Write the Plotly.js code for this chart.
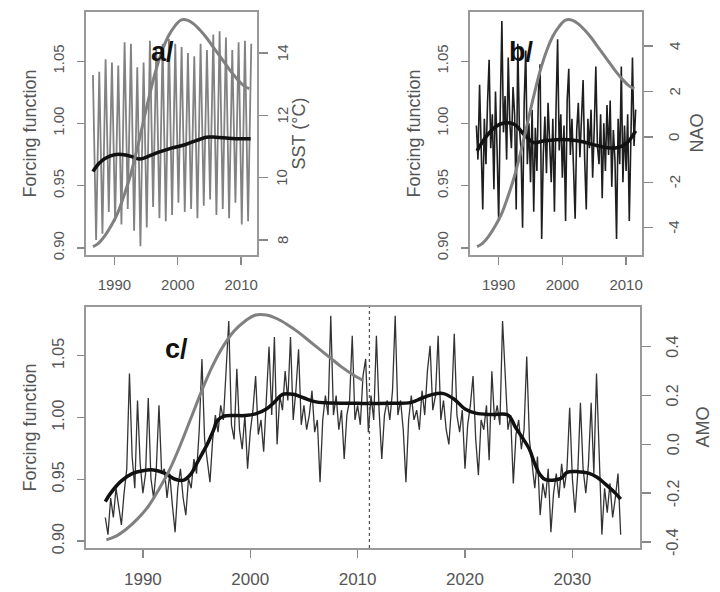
<!DOCTYPE html>
<html>
<head>
<meta charset="utf-8">
<script src="https://cdn.plot.ly/plotly-3.0.1.min.js"></script>
<style>html,body{margin:0;padding:0;background:#fff;}#chart{width:720px;height:592px;}</style>
</head>
<body>
<div id="chart"></div>
<script>
// ---------- DATA ----------
// Forcing function (shared by the three panels)
const ffYears  = [1986.6, 1987.5, 1988.5, 1989.5, 1990.5, 1991.5, 1992.5, 1993.5, 1994.5, 1995.5, 1996.5, 1997.5, 1998.5,
                  1999.5, 2000.5, 2001.5, 2002.5, 2003.5, 2004.5, 2005.5, 2006.5, 2007.5, 2008.5, 2009.5, 2010.5, 2011.3];
const ffValues = [0.901, 0.904, 0.910, 0.918, 0.928, 0.942, 0.958, 0.978, 1.000, 1.022, 1.042, 1.058, 1.070,
                  1.078, 1.083, 1.083, 1.080, 1.075, 1.069, 1.062, 1.055, 1.048, 1.041, 1.035, 1.030, 1.028];

// Panel a: SST, summer peaks (mid-year) and winter troughs (start of year)
const sstPeakYears = [1986, 1987, 1988, 1989, 1990, 1991, 1992, 1993, 1994, 1995, 1996, 1997, 1998,
                      1999, 2000, 2001, 2002, 2003, 2004, 2005, 2006, 2007, 2008, 2009, 2010, 2011];
const sstPeaks  = [13.3, 13.4, 13.8, 13.7, 13.6, 14.35, 14.3, 13.55, 13.7, 14.4, 14.1, 14.3, 14.45,
                   14.3, 14.2, 14.0, 13.9, 14.3, 14.1, 14.6, 14.7, 14.5, 14.1, 14.35, 14.4, 14.3];
const sstTroughs = [8.0, 8.2, 8.9, 8.6, 8.5, 9.0, 8.3, 7.8, 8.4, 9.06, 8.7, 8.6, 8.8,
                    9.2, 8.9, 9.0, 8.7, 9.1, 9.3, 8.8, 9.0, 8.7, 9.2, 8.5, 8.6];
const sstSmoothYears = [1986.6, 1987.5, 1988.5, 1990, 1991.5, 1993, 1994, 1995.5, 1997, 1999, 2001, 2003, 2004.5, 2006, 2008, 2010, 2011.5];
const sstSmooth      = [10.2, 10.45, 10.62, 10.74, 10.74, 10.66, 10.6, 10.7, 10.82, 10.95, 11.05, 11.2, 11.3, 11.3, 11.27, 11.25, 11.25];

// Panel b: NAO, quarterly from 1986.5
const naoStart = 1986.5, naoStep = 0.25;
const naoValues = [
  0.5, -1.0, 2.3, -0.8,   -3.2, 0.8, -1.2, 1.5,   3.4, -0.5, 1.0, -2.3,   2.0, -0.6, -3.7, 1.2,
  5.1, 0.2, 1.8, -1.0,    3.5, 0.6, -0.5, 2.2,    1.0, -3.2, 4.1, 0.4,    -0.5, -4.0, 1.5, 3.8,
  -1.2, 0.6, -2.0, 1.2,   -3.3, 0.4, -1.5, 2.0,   3.2, -4.5, -0.8, 0.9,   -1.6, 1.5, -0.4, -2.0,
  0.8, -3.3, 1.2, 4.3,    -0.6, 1.0, -1.8, 0.5,   -3.7, 1.6, 3.0, -0.8,   0.8, -1.4, -3.6, 0.3,
  1.5, -0.9, 0.6, 2.5,    -1.0, -3.2, 0.8, -0.5,  1.2, -1.8, 0.4, 3.1,    -0.4, -1.2, 1.0, -2.7,
  0.6, -1.5, 1.4, -0.8,   1.6, -2.2, 0.3, -1.0,   -4.5, 0.8, -1.2, 3.1,   -2.0, 0.5, -1.5, 1.0,
  -3.7, 0.6, 3.5, -0.4,   1.2];
const naoSmoothYears = [1986.6, 1988, 1989.5, 1991, 1992.5, 1994, 1995.5, 1997, 1999, 2001, 2003, 2005, 2007, 2008.5, 2010, 2011.5];
const naoSmooth      = [-0.62, 0.0, 0.45, 0.62, 0.55, 0.1, -0.25, -0.18, -0.12, -0.13, -0.2, -0.35, -0.47, -0.48, -0.3, 0.27];

// Panel c: AMO, quarterly from 1986.5 (observed then projected)
const amoStart = 1986.5, amoStep = 0.25;
const amoValues = [
  -0.30, -0.37, -0.22, -0.30,  -0.18, -0.26, -0.33, -0.20,  -0.10, 0.29, -0.05, -0.18,  0.18, -0.08, -0.20, -0.12,
  0.19, -0.14, -0.22, -0.10,   0.16, -0.12, -0.10, -0.22,   -0.12, -0.25, -0.36, -0.18,  -0.10, -0.22, -0.29, -0.14,
  -0.18, -0.06, -0.12, 0.06,   0.35, 0.02, -0.08, -0.155,   0.02, 0.12, 0.05, 0.16,      0.10, 0.30, 0.506, 0.08,
  0.02, 0.31, 0.06, -0.02,     0.12, -0.10, 0.05, 0.14,     0.28, 0.04, 0.10, -0.03,     0.18, 0.40, 0.12, 0.44,
  0.00, 0.20, 0.14, 0.30,      0.18, 0.44, 0.10, 0.22,      0.39, 0.08, 0.16, 0.06,      0.12, 0.22, 0.05, 0.10,
  -0.155, 0.10, 0.20, 0.12,    0.527, 0.12, 0.20, 0.06,     0.14, -0.06, 0.12, 0.18,     0.445, 0.10, 0.16, 0.08,
  0.28, 0.35, 0.05, 0.20,      0.10, 0.445, 0.14, -0.06,    0.12, 0.18, 0.10, 0.22,      0.527, 0.12, 0.18, 0.06,
  -0.155, 0.10, 0.20, 0.10,    0.14, 0.06, 0.22, 0.12,      0.30, 0.404, 0.14, 0.20,     0.445, 0.10, 0.18, 0.06,
  0.00, 0.16, 0.453, 0.12,     0.05, 0.14, -0.10, 0.08,     0.16, 0.28, 0.02, -0.126,    0.10, 0.06, 0.16, -0.065,
  0.30, 0.10, 0.16, 0.08,      0.506, 0.26, 0.06, 0.12,     -0.16, 0.04, 0.10, -0.02,    0.06, 0.36, 0.02, -0.08,
  -0.18, -0.05, -0.29, -0.16,  -0.22, -0.10, -0.36, -0.20,  -0.12, -0.22, -0.08, -0.18,  -0.10, 0.15, -0.14, -0.28,
  -0.12, 0.17, -0.10, -0.20,   -0.08, 0.17, -0.12, 0.29,    -0.06, -0.37, -0.18, -0.28,  -0.16, -0.30, -0.22, -0.12,
  -0.37];
const amoSmoothYears = [1986.5, 1987, 1988, 1989, 1990, 1991, 1992, 1993, 1993.8, 1994.5, 1995, 1995.5, 1996, 1996.5, 1997, 1997.5,
  1998.5, 1999.5, 2000.5, 2001.5, 2002.3, 2003, 2004, 2005, 2006, 2007, 2010, 2013, 2015, 2016, 2017, 2018, 2019, 2020, 2021,
  2022.5, 2024, 2024.7, 2025.3, 2026, 2026.5, 2027, 2027.5, 2028.5, 2029, 2029.5, 2030.5, 2031.5, 2032.3, 2033, 2034, 2034.5];
const amoSmooth = [-0.235, -0.2, -0.15, -0.12, -0.108, -0.105, -0.118, -0.143, -0.147, -0.12, -0.08, -0.04, 0.0, 0.05, 0.1, 0.115,
  0.118, 0.118, 0.125, 0.145, 0.175, 0.205, 0.205, 0.19, 0.175, 0.17, 0.168, 0.168, 0.172, 0.19, 0.205, 0.208, 0.185, 0.145, 0.128,
  0.122, 0.12, 0.07, 0.03, -0.02, -0.08, -0.125, -0.145, -0.145, -0.138, -0.115, -0.112, -0.118, -0.135, -0.16, -0.2, -0.225];
const splitYear = 2011.1;

const xTicksTop = [1990, 2000, 2010];
const xTicksBottom = [1990, 2000, 2010, 2020, 2030];
const ffTicks = [0.90, 0.95, 1.00, 1.05];
const ffTickText = ['0.90', '0.95', '1.00', '1.05'];
const sstTicks = [8, 10, 12, 14];
const sstTickText = ['8', '10', '12', '14'];
const naoTicks = [-4, -2, 0, 2, 4];
const naoTickText = ['-4', '-2', '0', '2', '4'];
const amoTicks = [-0.4, -0.2, 0.0, 0.2, 0.4];
const amoTickText = ['-0.4', '-0.2', '0.0', '0.2', '0.4'];

// ---------- BUILD SERIES ----------
const sstX = [], sstY = [];
for (let i = 0; i < sstPeakYears.length; i++) {
  sstX.push(sstPeakYears[i] + 0.6); sstY.push(sstPeaks[i]);
  if (i < sstTroughs.length) { sstX.push(sstPeakYears[i] + 1.1); sstY.push(sstTroughs[i]); }
}
const naoX = naoValues.map((v, i) => naoStart + i * naoStep);
const amoX = amoValues.map((v, i) => amoStart + i * amoStep);
const ffXc = [], ffYc = [];
ffYears.forEach((y, i) => { if (y <= splitYear + 0.05) { ffXc.push(y); ffYc.push(ffValues[i]); } });

const GRAY = '#808080', THIN = '#828282', BLACK = '#111';
const font = 'Liberation Sans, Arial, Helvetica, sans-serif';
const TXT = '#555';

const traces = [
  // panel a
  {x: sstX, y: sstY, xaxis: 'x', yaxis: 'y', type: 'scatter', mode: 'lines', line: {color: THIN, width: 1.8}},
  {x: sstSmoothYears, y: sstSmooth, xaxis: 'x', yaxis: 'y', type: 'scatter', mode: 'lines', line: {color: BLACK, width: 3.5, shape: 'spline'}},
  {x: ffYears, y: ffValues, xaxis: 'x', yaxis: 'y2', type: 'scatter', mode: 'lines', line: {color: GRAY, width: 3, shape: 'spline'}},
  // panel b
  {x: naoX, y: naoValues, xaxis: 'x2', yaxis: 'y3', type: 'scatter', mode: 'lines', line: {color: '#1e1e1e', width: 1.6}},
  {x: naoSmoothYears, y: naoSmooth, xaxis: 'x2', yaxis: 'y3', type: 'scatter', mode: 'lines', line: {color: BLACK, width: 3.5, shape: 'spline'}},
  {x: ffYears, y: ffValues, xaxis: 'x2', yaxis: 'y4', type: 'scatter', mode: 'lines', line: {color: GRAY, width: 3, shape: 'spline'}},
  // panel c
  {x: amoX, y: amoValues, xaxis: 'x3', yaxis: 'y5', type: 'scatter', mode: 'lines', line: {color: '#333', width: 1.3}},
  {x: amoSmoothYears, y: amoSmooth, xaxis: 'x3', yaxis: 'y5', type: 'scatter', mode: 'lines', line: {color: BLACK, width: 3.5, shape: 'spline'}},
  {x: ffXc, y: ffYc, xaxis: 'x3', yaxis: 'y6', type: 'scatter', mode: 'lines', line: {color: GRAY, width: 3, shape: 'spline'}}
];

function xAxis(domain, anchor, range, ticks, fs) {
  return {domain: domain, anchor: anchor, range: range, tickvals: ticks, ticks: 'outside', ticklen: 8, tickwidth: 1.3,
    tickcolor: '#888', showline: true, mirror: true, linecolor: '#999', linewidth: 1.6, showgrid: false, zeroline: false,
    tickfont: {family: font, size: fs, color: TXT}, ticklabelstandoff: 7, fixedrange: true};
}
// right-hand (main) axis: ticks drawn by the axis, labels placed as rotated annotations below
function yMain(domain, anchor, range, ticks) {
  return {domain: domain, anchor: anchor, side: 'right', range: range, tickvals: ticks, showticklabels: false,
    ticks: 'outside', ticklen: 9, tickwidth: 1.3, tickcolor: '#888', showline: true, mirror: true, linecolor: '#999', linewidth: 1.6,
    showgrid: false, zeroline: false};
}
function yFF(overlay, anchor, fs) {
  return {overlaying: overlay, anchor: anchor, side: 'left', range: [0.8944, 1.0895], tickvals: ffTicks, ticktext: ffTickText,
    tickangle: -90, ticks: 'outside', ticklen: 8, tickwidth: 1.3, tickcolor: '#888', showline: false, showgrid: false, zeroline: false,
    tickfont: {family: font, size: fs, color: TXT}, ticklabelstandoff: 7,
    title: {text: 'Forcing function', font: {family: font, size: 18, color: TXT}, standoff: 8}};
}
function rightTitle(text, xpx, dom) {
  return {text: text, xref: 'paper', yref: 'paper', x: xpx / 720, y: (dom[0] + dom[1]) / 2, textangle: -90,
    showarrow: false, xanchor: 'center', yanchor: 'middle', font: {family: font, size: 18, color: TXT}};
}
function rightTickLabels(vals, texts, yref, xpx, fs) {
  return vals.map((v, i) => ({text: texts[i], xref: 'paper', yref: yref, x: xpx / 720, y: v, textangle: -90,
    showarrow: false, xanchor: 'center', yanchor: 'middle', font: {family: font, size: fs, color: TXT}}));
}

const domA = [0.5693, 0.9797], domC = [0.0743, 0.4814];
const layout = {
  width: 720, height: 592, margin: {l: 0, r: 0, t: 0, b: 0}, paper_bgcolor: '#fff', plot_bgcolor: 'rgba(0,0,0,0)',
  showlegend: false, font: {family: font, color: TXT},
  xaxis:  xAxis([0.1194, 0.3569], 'y', [1985.5, 2012.5], xTicksTop, 15),
  yaxis:  yMain(domA, 'x', [7.52, 15.32], sstTicks),
  yaxis2: yFF('y', 'x', 15),
  xaxis2: xAxis([0.6528, 0.8917], 'y3', [1985.5, 2012.5], xTicksTop, 15),
  yaxis3: yMain(domA, 'x2', [-5.2, 5.5], naoTicks),
  yaxis4: yFF('y3', 'x2', 15),
  xaxis3: xAxis([0.1194, 0.8889], 'y5', [1984.7, 2036.3], xTicksBottom, 17),
  yaxis5: yMain(domC, 'x3', [-0.425, 0.563], amoTicks),
  yaxis6: yFF('y5', 'x3', 16),
  shapes: [{type: 'line', xref: 'x3', yref: 'y5 domain', x0: splitYear, x1: splitYear, y0: 0, y1: 1,
            line: {color: '#555', width: 1.3, dash: 'dot'}}],
  annotations: [].concat(
    rightTickLabels(sstTicks, sstTickText, 'y', 282, 15),
    rightTickLabels(naoTicks, naoTickText, 'y3', 674, 15),
    rightTickLabels(amoTicks, amoTickText, 'y5', 673, 16),
    [
      rightTitle('SST (°C)', 299, domA),
      rightTitle('NAO', 697, domA),
      rightTitle('AMO', 703, domC),
      {text: '<b>a/</b>', xref: 'paper', yref: 'paper', x: 149 / 720, y: 1 - 35 / 592, showarrow: false, font: {family: font, size: 27, color: '#111'}},
      {text: '<b>b/</b>', xref: 'paper', yref: 'paper', x: 535 / 720, y: 1 - 35 / 592, showarrow: false, font: {family: font, size: 27, color: '#111'}},
      {text: '<b>c/</b>', xref: 'paper', yref: 'paper', x: 163 / 720, y: 1 - 349 / 592, showarrow: false, font: {family: font, size: 27, color: '#111'}}
    ])
};
Plotly.newPlot('chart', traces, layout, {displayModeBar: false, staticPlot: true});
</script>
</body>
</html>
